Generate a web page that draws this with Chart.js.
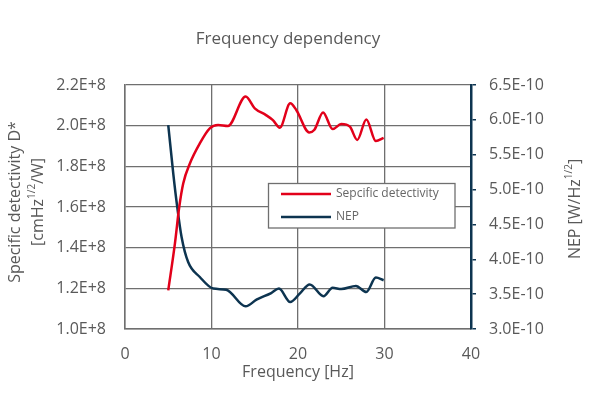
<!DOCTYPE html>
<html>
<head>
<meta charset="utf-8">
<script src="https://cdn.jsdelivr.net/npm/chart.js@4.4.1/dist/chart.umd.min.js"></script>
<style>
  html, body { margin: 0; padding: 0; background: #fff; }
  #wrap { width: 592px; height: 400px; }
</style>
</head>
<body>
<div id="wrap"><canvas id="freqChart"></canvas></div>
<script>
// values
const detFreq = [5.0, 5.77, 6.27, 6.73, 7.5, 8.65, 9.8, 10.77, 11.9, 13.95, 15.0, 16.3, 17.1, 17.9, 19.1, 19.8, 21.3, 21.9, 22.9, 24.0, 25.0, 26.0, 26.85, 27.9, 29.0, 29.9];
const detectivity = [1.19e8, 1.42e8, 1.60e8, 1.716e8, 1.814e8, 1.913e8, 1.987e8, 2.003e8, 1.998e8, 2.143e8, 2.085e8, 2.052e8, 2.027e8, 1.99e8, 2.11e8, 2.077e8, 1.967e8, 1.98e8, 2.065e8, 1.983e8, 2.008e8, 1.995e8, 1.93e8, 2.03e8, 1.924e8, 1.94e8];
const nepFreq = [5.0, 5.58, 6.04, 6.54, 7.3, 8.65, 10.2, 11.7, 13.95, 15.2, 16.9, 17.8, 19.1, 20.2, 21.35, 22.95, 24.0, 25.0, 26.7, 27.9, 29.0, 29.9];
const nep = [5.925e-10, 5.23e-10, 4.75e-10, 4.32e-10, 3.96e-10, 3.746e-10, 3.58e-10, 3.564e-10, 3.325e-10, 3.42e-10, 3.516e-10, 3.58e-10, 3.387e-10, 3.507e-10, 3.64e-10, 3.47e-10, 3.59e-10, 3.574e-10, 3.617e-10, 3.53e-10, 3.737e-10, 3.70e-10];

const xTicks = [0, 10, 20, 30, 40];
const detTicks = [1.0e8, 1.2e8, 1.4e8, 1.6e8, 1.8e8, 2.0e8, 2.2e8];
const nepTicks = [3.0e-10, 3.5e-10, 4.0e-10, 4.5e-10, 5.0e-10, 5.5e-10, 6.0e-10, 6.5e-10];

const RED = '#e2001a';
const NAVY = '#0d3450';
const GRID = '#6f6f6f';
const TEXT = '#595959';
const FONT = "'Open Sans', sans-serif";

Chart.defaults.font.family = FONT;
Chart.defaults.color = TEXT;

function setTicks(arr) {
    return (scale) => { scale.ticks = arr.map(v => ({ value: v })); };
}
function sciLabel(v) {
    return Number(v).toExponential(1).toUpperCase();
}

// draws a line of text that may contain superscript parts
function drawRich(ctx, parts, x, y, size, rotation) {
    const supSize = Math.round(size * 0.65);
    ctx.save();
    ctx.translate(x, y);
    ctx.rotate(rotation);
    let total = 0;
    parts.forEach(p => {
        ctx.font = (p.sup ? supSize : size) + 'px ' + FONT;
        p.w = ctx.measureText(p.t).width;
        total += p.w;
    });
    let cx = -total / 2;
    ctx.textBaseline = 'middle';
    ctx.textAlign = 'left';
    ctx.fillStyle = TEXT;
    parts.forEach(p => {
        ctx.font = (p.sup ? supSize : size) + 'px ' + FONT;
        ctx.fillText(p.t, cx, p.sup ? -size * 0.35 : 0);
        cx += p.w;
    });
    ctx.restore();
}

const titlesPlugin = {
    id: 'titles',
    afterDraw(chart) {
        const ctx = chart.ctx;
        drawRich(ctx, [{ t: 'Frequency dependency' }], 288, 39, 17, 0);
        drawRich(ctx, [{ t: 'Frequency [Hz]' }], 298, 372, 16, 0);
        drawRich(ctx, [{ t: 'Specific detectivity D*' }], 15, 202, 16, -Math.PI / 2);
        drawRich(ctx, [{ t: '[cmHz' }, { t: '1/2', sup: true }, { t: '/W]' }], 38, 202, 16, -Math.PI / 2);
        drawRich(ctx, [{ t: 'NEP [W/Hz' }, { t: '1/2', sup: true }, { t: ']' }], 575, 209, 16, -Math.PI / 2);
    }
};

const legendBoxPlugin = {
    id: 'legendBox',
    afterDraw(chart) {
        const ctx = chart.ctx;
        ctx.save();
        ctx.fillStyle = '#fff';
        ctx.fillRect(268.5, 183.5, 186.5, 44.5);
        ctx.strokeStyle = GRID;
        ctx.lineWidth = 1.3;
        ctx.strokeRect(268.5, 183.5, 186.5, 44.5);
        const rows = [194, 217];
        chart.data.datasets.forEach((ds, i) => {
            ctx.strokeStyle = ds.borderColor;
            ctx.lineWidth = 2.5;
            ctx.beginPath();
            ctx.moveTo(281, rows[i]);
            ctx.lineTo(331, rows[i]);
            ctx.stroke();
            ctx.fillStyle = '#666';
            ctx.font = '12px ' + FONT;
            ctx.textBaseline = 'middle';
            ctx.fillText(ds.label, 336, rows[i]);
        });
        ctx.restore();
    }
};

new Chart(document.getElementById('freqChart'), {
    type: 'line',
    data: {
        datasets: [{
            label: 'Sepcific detectivity',
            data: detFreq.map((f, i) => ({ x: f, y: detectivity[i] })),
            borderColor: RED,
            borderWidth: 2.5,
            pointRadius: 0,
            cubicInterpolationMode: 'monotone',
            yAxisID: 'y'
        }, {
            label: 'NEP',
            data: nepFreq.map((f, i) => ({ x: f, y: nep[i] })),
            borderColor: NAVY,
            borderWidth: 2.5,
            pointRadius: 0,
            cubicInterpolationMode: 'monotone',
            yAxisID: 'y1'
        }]
    },
    options: {
        responsive: true,
        maintainAspectRatio: false,
        animation: false,
        layout: { padding: { top: 85, left: 0, right: 0, bottom: 0 } },
        plugins: {
            legend: { display: false },
            tooltip: { enabled: false }
        },
        scales: {
            x: {
                type: 'linear',
                min: 0,
                max: 40,
                afterBuildTicks: setTicks(xTicks),
                afterFit: (s) => { s.height = 71; },
                grid: { color: GRID, lineWidth: 1.3, drawTicks: false },
                border: { color: GRID, width: 1.5 },
                ticks: { padding: 16, font: { size: 16 }, color: TEXT }
            },
            y: {
                position: 'left',
                min: 1.0e8,
                max: 2.2e8,
                afterBuildTicks: setTicks(detTicks),
                afterFit: (s) => { s.width = 125; },
                grid: { color: GRID, lineWidth: 1.3, drawTicks: false },
                border: { color: GRID, width: 1.5 },
                ticks: { padding: 19, font: { size: 16 }, color: TEXT, callback: sciLabel }
            },
            y1: {
                position: 'right',
                min: 3.0e-10,
                max: 6.5e-10,
                afterBuildTicks: setTicks(nepTicks),
                afterFit: (s) => { s.width = 121; },
                grid: { drawOnChartArea: false, color: NAVY, lineWidth: 1.5, tickLength: 5 },
                border: { color: NAVY, width: 2.5 },
                ticks: { padding: 13, font: { size: 16 }, color: TEXT, callback: sciLabel }
            }
        }
    },
    plugins: [titlesPlugin, legendBoxPlugin]
});
</script>
</body>
</html>
